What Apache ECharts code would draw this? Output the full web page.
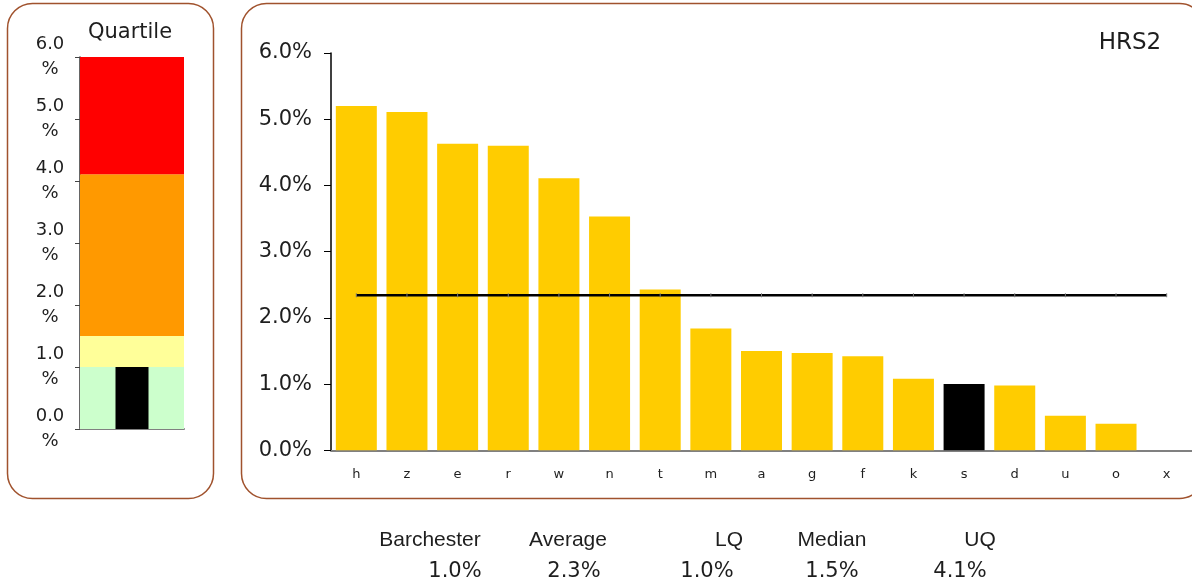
<!DOCTYPE html>
<html>
<head>
<meta charset="utf-8">
<script src="https://cdn.jsdelivr.net/npm/echarts@6/dist/echarts.min.js"></script>
<style>
  html, body { margin: 0; padding: 0; background: #ffffff; }
  #chart { width: 1192px; height: 584px; }
</style>
</head>
<body>
<div id="chart"></div>
<script>
// Rates by unit (percent), highest first
const categories = ['h', 'z', 'e', 'r', 'w', 'n', 't', 'm', 'a', 'g', 'f', 'k', 's', 'd', 'u', 'o', 'x'];
const rates = [5.20, 5.11, 4.63, 4.60, 4.11, 3.53, 2.43, 1.84, 1.50, 1.47, 1.42, 1.08, 1.00, 0.98, 0.52, 0.40, 0];

// Unit shown in black, reported as "Barchester"
const highlight = 's';
const ownName = 'Barchester';

// Quartile boundaries (percent)
const quartileNames = ['LQ', 'Median', 'UQ'];
const quartileValues = [1.00, 1.50, 4.11];

// Axis range and tick step (percent)
const axisMax = 6;
const axisStep = 1;

const chartTitle = 'HRS2';
const panelTitle = 'Quartile';

// Colours of the quartile bands, bottom to top
const bandColors = ['#ccffcc', '#ffff99', '#ff9900', '#ff0000'];
const barColor = '#ffcc00';
const ownColor = '#000000';

const FONT = 'DejaVu Sans';
const TEXT = '#1e1e1e';

const average = rates.reduce((s, v) => s + v, 0) / rates.length;
const ownValue = rates[categories.indexOf(highlight)];

// Stacked band thicknesses: 0..LQ, LQ..Median, Median..UQ, UQ..top
const bandEdges = [0, ...quartileValues, axisMax];
const bandSizes = bandColors.map((_, i) => bandEdges[i + 1] - bandEdges[i]);

const summaryLabels = [ownName, 'Average', ...quartileNames];
const summaryValues = [ownValue, average, ...quartileValues];
const headerX = [430, 568, 729, 832, 980];
const valueX = [455, 574, 707, 832, 960];

const chart = echarts.init(document.getElementById('chart'), null, { renderer: 'canvas' });

const graphics = [
  { type: 'rect', z: 0, shape: { x: 7.5, y: 3.5, width: 206, height: 495, r: 25 },
    style: { fill: 'none', stroke: '#a0522d', lineWidth: 1.5 } },
  { type: 'rect', z: 0, shape: { x: 241.5, y: 3.5, width: 963, height: 495, r: 25 },
    style: { fill: 'none', stroke: '#a0522d', lineWidth: 1.5 } },
  { type: 'text', x: 130, y: 33, style: { text: panelTitle, fill: TEXT, font: '21px "' + FONT + '"', align: 'center', verticalAlign: 'middle' } },
  { type: 'text', x: 1130, y: 43, style: { text: chartTitle, fill: TEXT, font: '23px "' + FONT + '"', align: 'center', verticalAlign: 'middle' } }
];
summaryLabels.forEach((t, i) => {
  graphics.push({ type: 'text', x: headerX[i], y: 540,
    style: { text: t, fill: TEXT, font: '21px "Liberation Sans"', align: 'center', verticalAlign: 'middle' } });
  graphics.push({ type: 'text', x: valueX[i], y: 572,
    style: { text: summaryValues[i].toFixed(1) + '%', fill: TEXT, font: '21px "' + FONT + '"', align: 'center', verticalAlign: 'middle' } });
});

const bandSeries = bandColors.map((c, i) => ({
  type: 'bar', xAxisIndex: 0, yAxisIndex: 0, stack: 'bands', barWidth: '100%',
  data: [bandSizes[i]], itemStyle: { color: c }, silent: true, z: 1
}));

chart.setOption({
  animation: false,
  backgroundColor: '#ffffff',
  textStyle: { fontFamily: FONT },
  graphic: graphics,
  grid: [
    { left: 80, top: 57, width: 104, height: 372 },
    { left: 331, top: 53, width: 862, height: 397.3 }
  ],
  xAxis: [
    { type: 'category', gridIndex: 0, data: [panelTitle],
      axisLine: { lineStyle: { color: '#808080', width: 2 } },
      axisTick: { show: false }, axisLabel: { show: false } },
    { type: 'category', gridIndex: 0, data: [ownName], show: false },
    { type: 'category', gridIndex: 1, data: categories,
      axisLine: { lineStyle: { color: '#808080', width: 2 } },
      axisTick: { show: false },
      axisLabel: { color: TEXT, fontSize: 13, margin: 18, fontFamily: FONT } }
  ],
  yAxis: [
    { type: 'value', gridIndex: 0, min: 0, max: axisMax, interval: axisStep,
      axisLine: { show: true, lineStyle: { color: '#333333', width: 1.5 } },
      axisTick: { show: true, length: 5, lineStyle: { color: '#444444' } },
      splitLine: { show: false },
      axisLabel: { formatter: v => v.toFixed(1) + '\n%', align: 'center', margin: 30,
        fontSize: 18, lineHeight: 25, color: TEXT, fontFamily: FONT } },
    { type: 'value', gridIndex: 1, min: 0, max: axisMax, interval: axisStep,
      axisLine: { show: true, lineStyle: { color: '#000000', width: 1.5 } },
      axisTick: { show: true, length: 7, lineStyle: { color: '#000000' } },
      splitLine: { show: false },
      axisLabel: { formatter: v => v.toFixed(1) + '%', margin: 19,
        fontSize: 21, color: TEXT, fontFamily: FONT } }
  ],
  series: [
    ...bandSeries,
    { type: 'bar', xAxisIndex: 1, yAxisIndex: 0, barWidth: 33, data: [ownValue],
      itemStyle: { color: ownColor }, z: 3 },
    { type: 'bar', xAxisIndex: 2, yAxisIndex: 1, barWidth: 41,
      data: rates.map((v, i) => ({ value: v, itemStyle: { color: categories[i] === highlight ? ownColor : barColor } })),
      z: 2 },
    { type: 'line', xAxisIndex: 2, yAxisIndex: 1, data: categories.map(() => average),
      symbol: 'rect', symbolSize: [1, 4], showSymbol: true,
      itemStyle: { color: '#777777' },
      lineStyle: { color: '#000000', width: 2.5 }, z: 4 }
  ]
});
</script>
</body>
</html>
